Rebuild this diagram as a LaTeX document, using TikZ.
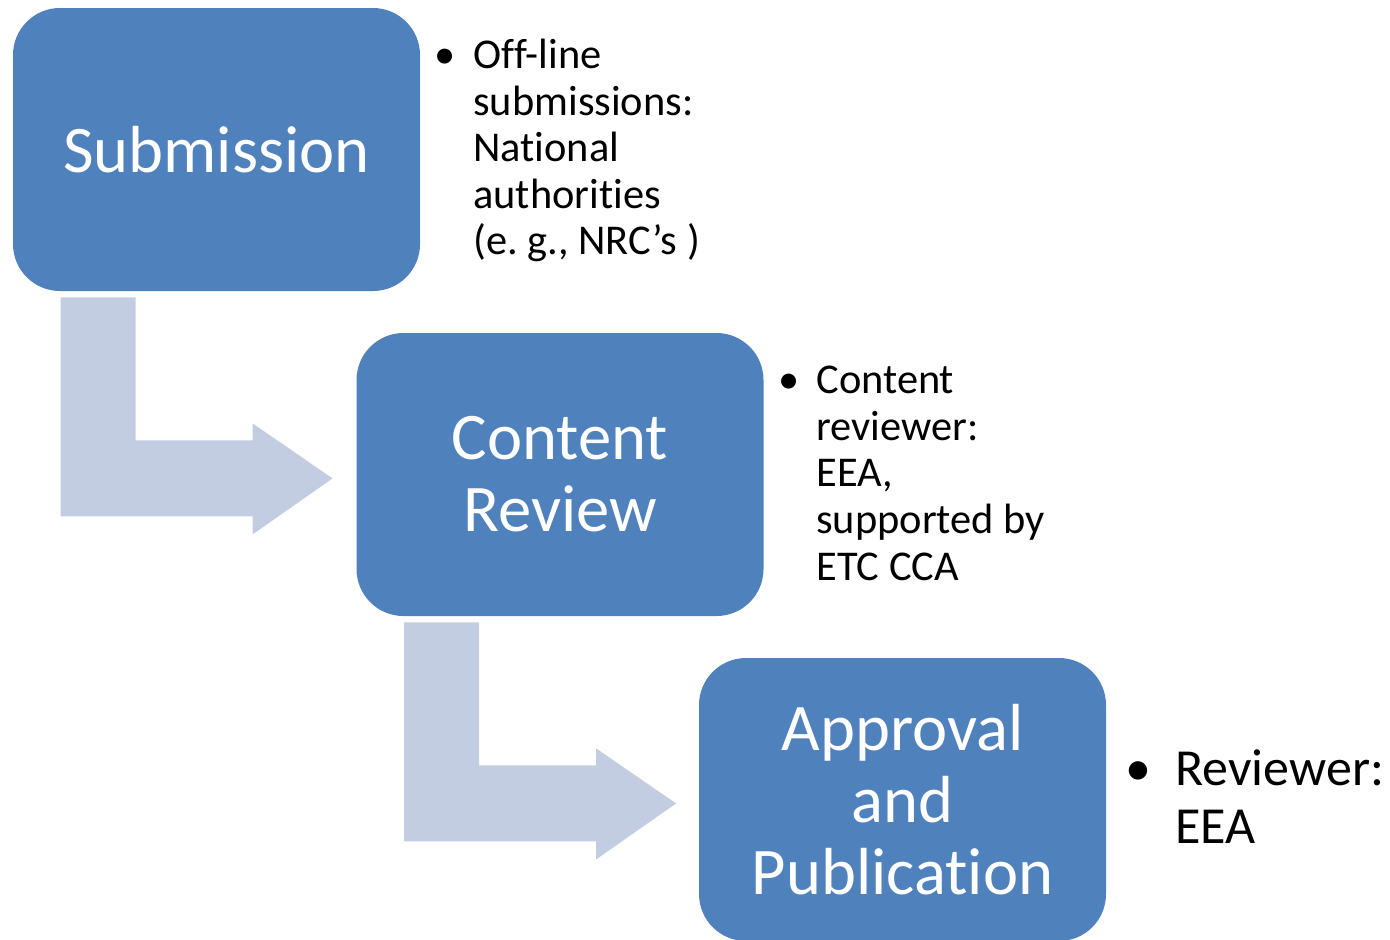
\documentclass[tikz,border=0pt]{standalone}
\usepackage{fontspec}
\setmainfont{Carlito}[Ligatures=NoCommon]
\usetikzlibrary{calc}
\definecolor{boxblue}{HTML}{4F81BD}
\definecolor{arrowblue}{HTML}{C3CDE2}
\frenchspacing
\begin{document}
\begin{tikzpicture}[x=0.5pt,y=-0.5pt,
  stage/.style={draw=none, fill=boxblue, rounded corners=23.5pt, minimum width=203.5pt, minimum height=141.5pt, text=white, align=center, font=\fontsize{33.3}{36}\selectfont, inner sep=0pt},
  bendarrow/.style={fill=arrowblue, draw=none},
  note/.style={anchor=base west, inner sep=0pt}]
\path[use as bounding box] (0,0) rectangle (1390,939);
\clip (0,0) rectangle (1390,939);
\node[stage] (sub) at (216.5,149.5) {Submission};
\node[stage] (cr) at (560,474.5) {Content\\Review};
\node[stage] (ap) at (902.5,799.5) {Approval\\and\\Publication};
\foreach \b in {sub,cr}{
  \fill[bendarrow] ($(\b.south west)+(48,6)$) -- ++(75,0) -- ++(0,143) -- ++(117,0) -- ++(0,-17) -- ++(80,55) -- ++(-80,56) -- ++(0,-18) -- ++(-192,0) -- cycle;
}
\node[note] (n1) at (439,68.5) {\parbox[t]{150pt}{\fontsize{21.2}{23.25}\selectfont\frenchspacing\hangindent=17pt\hangafter=1\noindent\makebox[17pt][l]{\hspace{-2.5pt}•}Off-line\\submissions:\\National\\authorities\\(e. g., NRC’s )}};
\node[note] (n2) at (783,393.5) {\parbox[t]{150pt}{\fontsize{21.2}{23.35}\selectfont\hangindent=16.5pt\hangafter=1\noindent\makebox[16.5pt][l]{\hspace{-2.5pt}•}Content\\reviewer:\\EEA,\\supported by\\ETC CCA}};
\node[note] (n3) at (1130,785) {\parbox[t]{150pt}{\fontsize{26}{29}\selectfont\hangindent=22.5pt\hangafter=1\noindent\makebox[22.5pt][l]{\hspace{-2.5pt}•}Reviewer:\\EEA}};
\end{tikzpicture}
\end{document}
